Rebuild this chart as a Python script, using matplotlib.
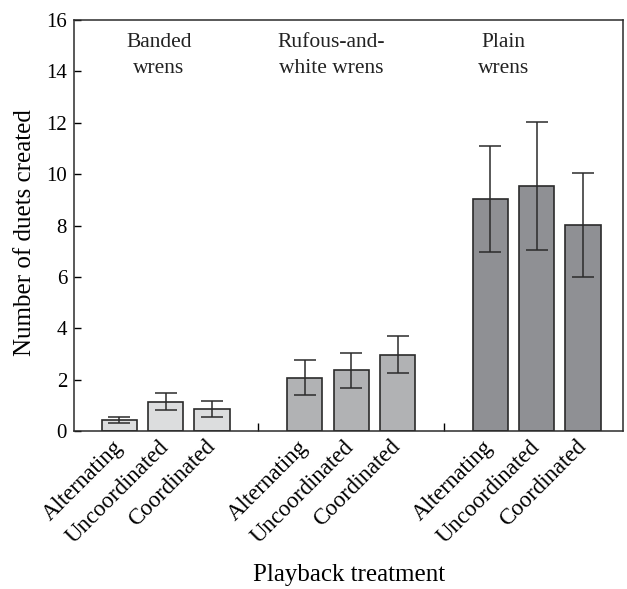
import numpy as np
import matplotlib
matplotlib.use("Agg")
import matplotlib.pyplot as plt

# data
treatments = ["Alternating", "Uncoordinated", "Coordinated"]
species = ["Banded\nwrens", "Rufous-and-\nwhite wrens", "Plain\nwrens"]
banded_mean = [0.42, 1.15, 0.86]
banded_err = [0.12, 0.32, 0.30]
rufous_mean = [2.07, 2.37, 2.98]
rufous_err = [0.68, 0.68, 0.72]
plain_mean = [9.03, 9.55, 8.03]
plain_err = [2.05, 2.50, 2.02]

means = [banded_mean, rufous_mean, plain_mean]
errs = [banded_err, rufous_err, plain_err]
colors = ["#dcddde", "#b1b2b4", "#8f9094"]

plt.rcParams["font.family"] = ["Liberation Serif", "DejaVu Serif"]
plt.rcParams["font.size"] = 15

fig = plt.figure(figsize=(6.27, 5.89), dpi=100)
ax = fig.add_axes([0.118, 0.268, 0.876, 0.698])

positions = []
for g in range(3):
    x = np.arange(3) + 4 * g
    positions.extend(x)
    ax.bar(x, means[g], width=0.76, color=colors[g], edgecolor="#2b2b2b", linewidth=1.2, zorder=2)
    ax.errorbar(x, means[g], yerr=errs[g], fmt="none", ecolor="#2b2b2b",
                elinewidth=1.1, capsize=8, capthick=1.1, zorder=3)

# species labels inside the plot
label_x = [0.85, 4.57, 8.28]
for lx, name in zip(label_x, species):
    ax.text(lx, 14.6, name, ha="center", va="center", fontsize=15.5,
            linespacing=1.5, color="#222222")

ax.set_xlim(-0.98, 10.87)
ax.set_ylim(0, 16)
ax.set_yticks(np.arange(0, 17, 2))
ax.tick_params(axis="y", direction="in", length=5, width=1, labelsize=15, pad=5)

ax.set_xticks(positions)
ax.set_xticklabels(treatments * 3, rotation=45, ha="right", va="center",
                   rotation_mode="anchor", fontsize=16.5)
ax.tick_params(axis="x", length=0, pad=9)
ax.set_xticks([3, 7], minor=True)
ax.tick_params(axis="x", which="minor", direction="in", length=6, width=1)

for sp in ax.spines.values():
    sp.set_linewidth(1.1)
    sp.set_color("#2b2b2b")

fig.text(0.04, 0.606, "Number of duets created", rotation=90, ha="center", va="center", fontsize=18)
fig.text(0.556, 0.024, "Playback treatment", ha="center", va="center", fontsize=18)

fig.savefig("out.png", dpi=100)
